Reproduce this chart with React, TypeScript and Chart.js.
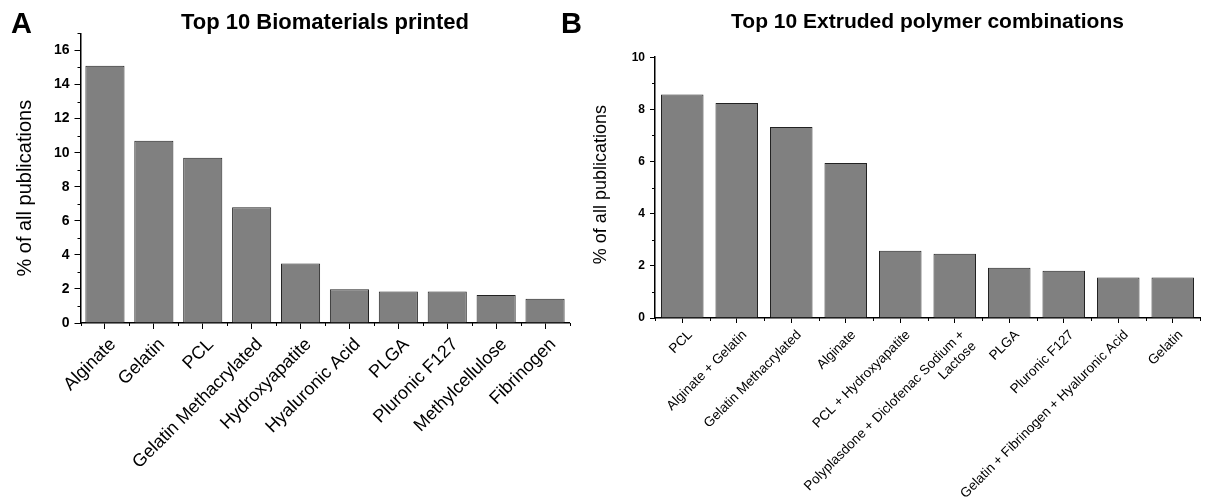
import React, { useEffect, useRef } from 'react';
import { Chart, registerables } from 'chart.js';

Chart.register(...registerables);

const materialsA: string[] = [
  'Alginate', 'Gelatin', 'PCL', 'Gelatin Methacrylated', 'Hydroxyapatite',
  'Hyaluronic Acid', 'PLGA', 'Pluronic F127', 'Methylcellulose', 'Fibrinogen',
];
const percentA: number[] = [15.1, 10.7, 9.7, 6.8, 3.5, 1.98, 1.85, 1.85, 1.65, 1.42];

const combosB: (string | string[])[] = [
  'PCL', 'Alginate + Gelatin', 'Gelatin Methacrylated', 'Alginate', 'PCL + Hydroxyapatite',
  ['Polyplasdone + Diclofenac Sodium +', 'Lactose'], 'PLGA', 'Pluronic F127',
  'Gelatin + Fibrinogen + Hyaluronic Acid', 'Gelatin',
];
const percentB: number[] = [8.57, 8.24, 7.32, 5.94, 2.58, 2.46, 1.93, 1.81, 1.55, 1.55];

const titleA = 'Top 10 Biomaterials printed';
const titleB = 'Top 10 Extruded polymer combinations';
const yTitle = '% of all publications';

const FONT = "'Liberation Sans', Arial, sans-serif";

type Cfg = {
  labels: (string | string[])[];
  values: number[];
  title: string;
  yMax: number;
  yWidth: number;
  xHeight: number;
  padRight: number;
  titlePad: { top: number; bottom: number };
  titleSize: number;
  yTitleSize: number;
  yTitleX: number;
  yTitleDy: number;
  tickSize: number;
  tickLen: number;
  tickPad: number;
  xLabelSize: number;
  xLabelPad: number;
  xLabelOffset: number;
  barPct: number;
};

function makePlugin(cfg: Cfg) {
  return {
    id: 'extras',
    afterDraw(chart: any) {
      const { ctx, chartArea } = chart;
      const x = chart.scales.x;
      const y = chart.scales.y;
      ctx.save();
      ctx.strokeStyle = '#000';
      ctx.lineWidth = 1;
      ctx.beginPath();
      for (let v = Math.ceil(y.min); v <= y.max; v++) {
        if (v % 2 !== 0) {
          const py = Math.round(y.getPixelForValue(v)) + 0.5;
          ctx.moveTo(chartArea.left - 3, py);
          ctx.lineTo(chartArea.left, py);
        }
      }
      const n = chart.data.labels.length;
      for (let i = 0; i <= n; i++) {
        const px = Math.round(x.getPixelForValue(i - 0.5)) + 0.5;
        ctx.moveTo(px, chartArea.bottom);
        ctx.lineTo(px, chartArea.bottom + 3);
      }
      ctx.stroke();
      // y axis title
      ctx.translate(cfg.yTitleX, (chartArea.top + chartArea.bottom) / 2 + cfg.yTitleDy);
      ctx.rotate(-Math.PI / 2);
      ctx.fillStyle = '#000';
      ctx.font = `${cfg.yTitleSize}px ${FONT}`;
      ctx.textAlign = 'center';
      ctx.textBaseline = 'middle';
      ctx.fillText(yTitle, 0, 0);
      ctx.restore();
    },
  };
}

function BarPanel({ cfg, width, left }: { cfg: Cfg; width: number; left: number }) {
  const ref = useRef<HTMLCanvasElement | null>(null);
  useEffect(() => {
    if (!ref.current) return;
    const chart = new Chart(ref.current, {
      type: 'bar',
      data: {
        labels: cfg.labels as any,
        datasets: [
          {
            data: cfg.values,
            backgroundColor: '#808080',
            borderColor: '#222',
            borderWidth: 1,
            barPercentage: cfg.barPct,
            categoryPercentage: 1,
          },
        ],
      },
      options: {
        animation: false,
        responsive: false,
        maintainAspectRatio: false,
        layout: { padding: { left: 0, right: cfg.padRight, top: 0, bottom: 0 } },
        plugins: {
          legend: { display: false },
          tooltip: { enabled: false },
          title: {
            display: true,
            text: cfg.title,
            fullSize: false,
            color: '#000',
            font: { family: FONT, size: cfg.titleSize, weight: 'bold' },
            padding: cfg.titlePad,
          },
        },
        scales: {
          x: {
            type: 'category',
            offset: true,
            afterFit(scale: any) {
              scale.height = cfg.xHeight;
            },
            grid: {
              display: true,
              drawOnChartArea: false,
              drawTicks: true,
              offset: false,
              tickLength: cfg.tickLen,
              tickColor: '#000',
              color: '#000',
            },
            border: { display: true, color: '#000', width: 1.5 },
            ticks: {
              autoSkip: false,
              minRotation: 45,
              maxRotation: 45,
              color: '#000',
              padding: cfg.xLabelPad,
              labelOffset: cfg.xLabelOffset,
              font: { family: FONT, size: cfg.xLabelSize },
            },
          },
          y: {
            type: 'linear',
            min: 0,
            max: cfg.yMax,
            afterFit(scale: any) {
              scale.width = cfg.yWidth;
            },
            afterBuildTicks(scale: any) {
              scale.ticks = scale.ticks.filter((t: any) => t.value % 2 === 0);
            },
            grid: {
              display: true,
              drawOnChartArea: false,
              drawTicks: true,
              tickLength: cfg.tickLen,
              tickColor: '#000',
              color: '#000',
            },
            border: { display: true, color: '#000', width: 1.5 },
            ticks: {
              stepSize: 1,
              color: '#000',
              padding: cfg.tickPad,
              font: { family: FONT, size: cfg.tickSize, weight: 'bold' },
            },
          },
        },
      },
      plugins: [makePlugin(cfg)],
    });
    return () => chart.destroy();
  }, []);
  return (
    <canvas
      ref={ref}
      width={width}
      height={500}
      style={{ position: 'absolute', left, top: 0, width, height: 500 }}
    />
  );
}

const cfgA: Cfg = {
  labels: materialsA,
  values: percentA,
  title: titleA,
  yMax: 17,
  yWidth: 80.5,
  xHeight: 177,
  padRight: 30.5,
  titlePad: { top: 10, bottom: -3 },
  titleSize: 22,
  yTitleSize: 20,
  yTitleX: 25,
  yTitleDy: 10,
  tickSize: 14,
  tickLen: 6,
  tickPad: 5,
  xLabelSize: 18,
  xLabelPad: 5,
  xLabelOffset: 8,
  barPct: 0.8,
};

const cfgB: Cfg = {
  labels: combosB,
  values: percentB,
  title: titleB,
  yMax: 10,
  yWidth: 85,
  xHeight: 182,
  padRight: 5,
  titlePad: { top: 10, bottom: 22 },
  titleSize: 21,
  yTitleSize: 18,
  yTitleX: 31,
  yTitleDy: -3,
  tickSize: 12,
  tickLen: 5,
  tickPad: 5,
  xLabelSize: 13.5,
  xLabelPad: 4,
  xLabelOffset: 8,
  barPct: 0.78,
};

export default function App() {
  const letter: React.CSSProperties = {
    position: 'absolute',
    top: 6,
    fontFamily: FONT,
    fontWeight: 'bold',
    fontSize: 29,
    color: '#000',
    lineHeight: '34px',
  };
  return (
    <div style={{ position: 'fixed', left: 0, top: 0, width: 1205, height: 500, background: '#fff', overflow: 'hidden' }}>
      <BarPanel cfg={cfgA} width={600} left={0} />
      <BarPanel cfg={cfgB} width={635} left={570} />
      <div style={{ ...letter, left: 11 }}>A</div>
      <div style={{ ...letter, left: 561 }}>B</div>
    </div>
  );
}
